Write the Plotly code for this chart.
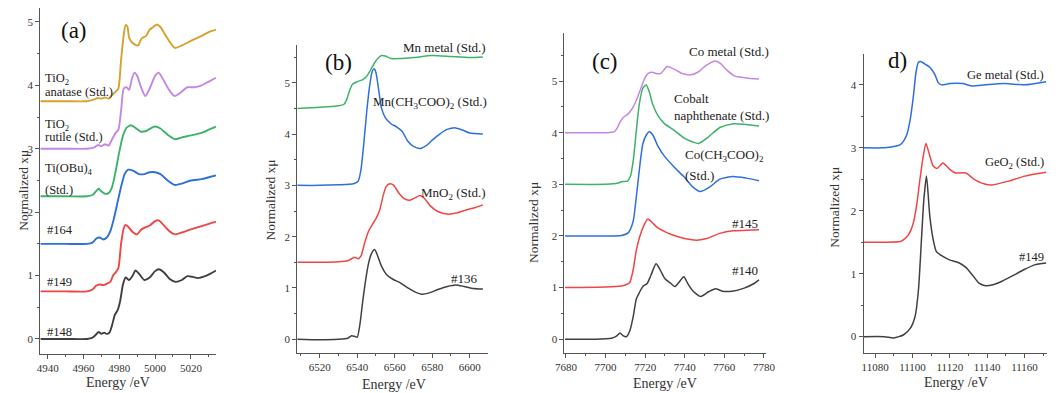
import plotly.graph_objects as go

W, H = 1061, 393

# ---------------- Panel (a): Ti K-edge ----------------
a_e_148 = [4936, 4950, 4962, 4965, 4967, 4968.5, 4970, 4971.5, 4973, 4974.5, 4976, 4977.5, 4979, 4980.5, 4982, 4983.5, 4985.5, 4987.5, 4989, 4991, 4994, 4997, 5000, 5002, 5005, 5008, 5011.5, 5015, 5018, 5021, 5024, 5028, 5031, 5034]
a_mu_148 = [0, 0, 0, 0.02, 0.07, 0.11, 0.08, 0.1, 0.08, 0.1, 0.22, 0.38, 0.45, 0.6, 0.85, 0.97, 0.93, 1.0, 1.08, 1.03, 0.93, 0.97, 1.07, 1.1, 1.05, 0.95, 0.9, 0.93, 0.99, 0.98, 0.96, 0.99, 1.03, 1.08]

a_e_149 = [4936, 4950, 4962, 4965, 4967, 4969, 4971, 4973, 4975, 4976.5, 4978, 4979.5, 4981, 4982.5, 4983.5, 4985, 4987, 4990, 4992, 4994.5, 4997, 5000, 5002, 5004, 5008, 5011.5, 5015, 5020, 5026, 5034]
a_mu_149 = [0.75, 0.75, 0.75, 0.78, 0.84, 0.86, 0.85, 0.87, 0.9, 1.0, 1.05, 1.12, 1.5, 1.75, 1.8, 1.77, 1.7, 1.65, 1.72, 1.76, 1.79, 1.86, 1.87, 1.82, 1.7, 1.65, 1.68, 1.73, 1.78, 1.85]

a_e_164 = [4936, 4950, 4962, 4965, 4967, 4969, 4971, 4973, 4975, 4977, 4979, 4981, 4983, 4985, 4988, 4991, 4994, 4997, 5000, 5003, 5007, 5011, 5015, 5020, 5026, 5030, 5034]
a_mu_164 = [1.5, 1.5, 1.5, 1.52, 1.58, 1.6, 1.57, 1.6, 1.7, 1.9, 2.15, 2.4, 2.6, 2.67, 2.65, 2.6, 2.6, 2.63, 2.63, 2.6, 2.5, 2.43, 2.45, 2.5, 2.52, 2.55, 2.58]

a_e_tobu = [4936, 4950, 4962, 4965, 4967, 4968.5, 4970, 4972, 4974, 4976, 4978, 4980, 4982, 4984, 4986.5, 4989, 4992, 4995, 4998, 5000, 5003, 5007, 5011, 5015, 5020, 5026, 5030, 5034]
a_mu_tobu = [2.25, 2.25, 2.25, 2.27, 2.33, 2.37, 2.33, 2.29, 2.3, 2.4, 2.65, 2.95, 3.2, 3.33, 3.37, 3.33, 3.27, 3.28, 3.33, 3.35, 3.32, 3.22, 3.15, 3.18, 3.21, 3.25, 3.3, 3.35]

a_e_rutile = [4936, 4950, 4962, 4966, 4968, 4970, 4972, 4974, 4976, 4978, 4979.5, 4981, 4982.5, 4984, 4985.5, 4987, 4988.5, 4990, 4992, 4994.5, 4997, 5000, 5002, 5004, 5008, 5011, 5014, 5018, 5022, 5026, 5030, 5034]
a_mu_rutile = [3.0, 3.0, 3.0, 3.02, 3.06, 3.04, 3.07, 3.05, 3.15, 3.25, 3.3, 3.6, 3.95, 3.97, 3.93, 4.1, 4.2, 4.15, 3.98, 3.83, 3.95, 4.15, 4.2, 4.12, 3.92, 3.83, 3.88, 3.97, 3.97, 4.0, 4.06, 4.12]

a_e_anatase = [4936, 4950, 4962, 4966, 4968, 4970, 4972, 4974, 4976, 4978, 4979.5, 4981, 4982.5, 4983.5, 4984.5, 4985.5, 4987, 4989, 4990.5, 4992.5, 4995, 4997, 4999, 5001, 5003, 5006, 5011, 5015, 5020, 5026, 5030, 5034]
a_mu_anatase = [3.75, 3.75, 3.75, 3.78, 3.8, 3.79, 3.81, 3.79, 3.85, 3.9, 3.95, 4.4, 4.8, 4.95, 4.93, 4.75, 4.68, 4.64, 4.63, 4.74, 4.78, 4.88, 4.92, 4.96, 4.92, 4.78, 4.59, 4.63, 4.7, 4.78, 4.84, 4.88]

# ---------------- Panel (b): Mn K-edge ----------------
b_e_mnmetal = [6508, 6520, 6530, 6533, 6534.5, 6536, 6537.5, 6540, 6543, 6545, 6547, 6549, 6551, 6553, 6555, 6558, 6563, 6570, 6580, 6590, 6600, 6607]
b_mu_mnmetal = [4.50, 4.52, 4.55, 4.58, 4.68, 4.85, 4.97, 5.02, 5.06, 5.12, 5.24, 5.37, 5.47, 5.53, 5.52, 5.47, 5.47, 5.49, 5.53, 5.51, 5.49, 5.50]

b_e_mnac = [6508, 6520, 6530, 6538, 6540.5, 6542, 6543.5, 6545, 6546.5, 6548, 6549, 6550, 6551.5, 6553, 6555, 6558, 6561, 6564, 6567, 6570, 6573.5, 6577, 6580, 6584, 6588, 6592.5, 6596, 6600, 6607]
b_mu_mnac = [3.0, 3.0, 3.01, 3.03, 3.08, 3.3, 3.8, 4.4, 4.9, 5.22, 5.27, 5.2, 4.85, 4.5, 4.32, 4.2, 4.14, 4.05, 3.86, 3.76, 3.72, 3.78, 3.88, 4.0, 4.09, 4.12, 4.08, 4.02, 4.0]

b_e_mno2 = [6508, 6520, 6530, 6535, 6537, 6538.6, 6540.5, 6542, 6544, 6546, 6548, 6550, 6552, 6554, 6555.5, 6557.5, 6559.5, 6562, 6565, 6568, 6571, 6573.5, 6576, 6579, 6583, 6588, 6593, 6598, 6603, 6607]
b_mu_mno2 = [1.5, 1.5, 1.51, 1.53, 1.57, 1.6, 1.57, 1.62, 1.88, 2.1, 2.23, 2.35, 2.52, 2.82, 2.98, 3.03, 3.0, 2.86, 2.74, 2.71, 2.76, 2.8, 2.74, 2.6, 2.49, 2.44, 2.46, 2.52, 2.57, 2.62]

b_e_136 = [6508, 6520, 6530, 6535, 6537, 6538.5, 6540, 6541.5, 6543, 6544.5, 6546, 6547.5, 6549.3, 6551, 6553, 6555.5, 6559, 6563, 6567, 6571, 6574.5, 6578, 6583, 6588, 6592.5, 6597, 6602, 6607]
b_mu_136 = [0.0, -0.01, 0.0, 0.02, 0.07, 0.06, 0.04, 0.3, 0.75, 1.15, 1.47, 1.66, 1.75, 1.62, 1.42, 1.27, 1.17, 1.1, 1.0, 0.92, 0.88, 0.9, 0.97, 1.03, 1.06, 1.03, 0.99, 0.98]

# ---------------- Panel (c): Co K-edge ----------------
c_e_cometal = [7679.5, 7690, 7700, 7704.5, 7706, 7707.5, 7709, 7711, 7713, 7715, 7716.5, 7718.5, 7720, 7721.5, 7723.5, 7726, 7728, 7731, 7733, 7736, 7739, 7743, 7747, 7751, 7755.5, 7758, 7761, 7765, 7771, 7777.5]
c_mu_cometal = [4.0, 4.0, 4.0, 4.02, 4.1, 4.22, 4.3, 4.35, 4.44, 4.58, 4.72, 4.93, 5.07, 5.15, 5.17, 5.14, 5.15, 5.28, 5.26, 5.2, 5.14, 5.12, 5.18, 5.31, 5.39, 5.34, 5.22, 5.1, 5.06, 5.04]

c_e_conaph = [7679.5, 7700, 7706, 7708, 7711, 7712.5, 7714, 7715.5, 7717, 7718.8, 7720.5, 7722, 7723.8, 7726.3, 7729.6, 7734.5, 7739.5, 7744, 7747, 7752, 7757.7, 7764, 7771, 7777.5]
c_mu_conaph = [3.0, 3.0, 3.02, 3.05, 3.06, 3.15, 3.47, 4.03, 4.55, 4.86, 4.93, 4.8, 4.55, 4.34, 4.18, 4.05, 3.9, 3.82, 3.79, 3.92, 4.1, 4.17, 4.16, 4.13]

c_e_coac = [7679.5, 7700, 7708, 7711.4, 7713.9, 7715.5, 7717.2, 7718.8, 7720.5, 7722.1, 7723.8, 7726.3, 7729.6, 7734.5, 7739.5, 7744, 7747.8, 7752.7, 7757.7, 7764.3, 7770.9, 7777.5]
c_mu_coac = [2.0, 2.0, 2.01, 2.06, 2.28, 2.75, 3.33, 3.78, 3.95, 4.02, 3.96, 3.75, 3.55, 3.34, 3.15, 2.95, 2.86, 2.95, 3.1, 3.15, 3.12, 3.07]

c_e_145 = [7679.5, 7700, 7708, 7710, 7712.2, 7713.9, 7715.5, 7717.2, 7719.3, 7721.3, 7723, 7726.3, 7731.2, 7736.2, 7742.8, 7747, 7751, 7757.7, 7764.3, 7771, 7777.5]
c_mu_145 = [1.0, 1.01, 1.03, 1.05, 1.1, 1.34, 1.72, 1.98, 2.2, 2.33, 2.28, 2.16, 2.06, 1.99, 1.93, 1.92, 1.95, 2.05, 2.1, 2.11, 2.12]

c_e_140 = [7679.5, 7695, 7703, 7705.5, 7707.3, 7708.8, 7710.5, 7712.2, 7714, 7715.5, 7717, 7719, 7721, 7723, 7725.5, 7727.5, 7730, 7733, 7735, 7737, 7739.5, 7741.5, 7744, 7748, 7752, 7755.5, 7759, 7764, 7770, 7775, 7777.5]
c_mu_140 = [0.0, 0.0, 0.02, 0.06, 0.12, 0.07, 0.05, 0.16, 0.45, 0.78, 0.9, 1.03, 1.08, 1.25, 1.46, 1.35, 1.17, 1.08, 1.02, 1.1, 1.21, 1.08, 0.94, 0.83, 0.92, 0.98, 0.93, 0.93, 0.99, 1.08, 1.15]

# ---------------- Panel (d): Ge K-edge ----------------
d_e_gemetal = [11073.8, 11085, 11090, 11093.5, 11095.3, 11097, 11098.8, 11100.5, 11101.9, 11103.2, 11104.4, 11106.7, 11109.3, 11111.9, 11113.7, 11115.4, 11120, 11126.8, 11132.1, 11139.1, 11149.6, 11160.2, 11171.6]
d_mu_gemetal = [3.0, 3.0, 3.02, 3.05, 3.11, 3.21, 3.45, 3.82, 4.2, 4.36, 4.37, 4.33, 4.28, 4.17, 4.04, 4.0, 4.02, 4.02, 3.98, 4.0, 4.02, 4.0, 4.05]

d_e_geo2 = [11073.8, 11085, 11093.5, 11095.3, 11097.9, 11100.5, 11102.3, 11104, 11105.8, 11107.2, 11109.3, 11111.1, 11113.2, 11116.3, 11119.8, 11123, 11128.6, 11133, 11139.1, 11142.6, 11151.4, 11160.2, 11171.6]
d_mu_geo2 = [1.5, 1.5, 1.51, 1.54, 1.62, 1.81, 2.1, 2.5, 2.87, 3.07, 2.87, 2.71, 2.67, 2.76, 2.66, 2.6, 2.6, 2.5, 2.42, 2.41, 2.47, 2.55, 2.61]

d_e_149 = [11073.8, 11085, 11090, 11095.3, 11098.8, 11101.4, 11103.2, 11104.9, 11106.1, 11107.5, 11109.3, 11111.1, 11112.8, 11115.4, 11119.8, 11125.1, 11128.6, 11132.1, 11135.6, 11139.1, 11142.6, 11147.9, 11153.2, 11160.2, 11165.4, 11171.6]
d_mu_149 = [0.0, 0.0, -0.02, 0.03, 0.13, 0.32, 0.74, 1.59, 2.18, 2.55, 1.91, 1.54, 1.35, 1.29, 1.22, 1.17, 1.1, 0.98, 0.85, 0.81, 0.82, 0.88, 0.96, 1.07, 1.14, 1.17]

# ---------------- styling ----------------
BLACK = "#404040"
RED = "#ee4545"
BLUE = "#2f6fdc"
GREEN = "#3db36a"
PURPLE = "#c487e6"
GOLD = "#d6a22c"
SERIF = "Liberation Serif, Times New Roman, DejaVu Serif, serif"


def px(x, y):
    return x / W, 1 - y / H


fig = go.Figure()

panels = [
    ("x", "y", [(a_e_148, a_mu_148, BLACK), (a_e_149, a_mu_149, RED), (a_e_164, a_mu_164, BLUE),
                (a_e_tobu, a_mu_tobu, GREEN), (a_e_rutile, a_mu_rutile, PURPLE), (a_e_anatase, a_mu_anatase, GOLD)], 1.9),
    ("x2", "y2", [(b_e_136, b_mu_136, BLACK), (b_e_mno2, b_mu_mno2, RED), (b_e_mnac, b_mu_mnac, BLUE),
                  (b_e_mnmetal, b_mu_mnmetal, GREEN)], 1.5),
    ("x3", "y3", [(c_e_140, c_mu_140, BLACK), (c_e_145, c_mu_145, RED), (c_e_coac, c_mu_coac, BLUE),
                  (c_e_conaph, c_mu_conaph, GREEN), (c_e_cometal, c_mu_cometal, PURPLE)], 1.5),
    ("x4", "y4", [(d_e_149, d_mu_149, BLACK), (d_e_geo2, d_mu_geo2, RED), (d_e_gemetal, d_mu_gemetal, BLUE)], 1.5),
]
for xa, ya, series, lw in panels:
    for e, mu, col in series:
        fig.add_trace(go.Scatter(x=e, y=mu, mode="lines", xaxis=xa, yaxis=ya,
                                 line=dict(color=col, width=lw, shape="spline", smoothing=0.6),
                                 showlegend=False, hoverinfo="skip"))

# axes geometry in pixels: (left, right, top, bottom), x range, y range, tick0
geo = [
    (31.7, 210.7, 8, 354, [4935.8, 5034.1], [-0.237, 5.22], 4940),
    (293.3, 487, 45, 353, [6508.1, 6609.6], [-0.267, 5.735], 6520),
    (565, 770, 33, 352.7, [7679.2, 7781], [-0.26, 5.93], 7680),
    (869.3, 1056, 54, 353, [11073.8, 11172.1], [-0.26, 4.49], 11080),
]
axcol = "#555555"
tickfont = dict(family=SERIF, size=11, color="#333333")
layout = {}
for i, (l, r, t, b, xr, yr, x0) in enumerate(geo):
    n = "" if i == 0 else str(i + 1)
    layout["xaxis" + n] = dict(domain=[l / W, r / W], range=xr, anchor="y" + n,
                               showline=True, linecolor=axcol, linewidth=1,
                               ticks="outside", ticklen=4, tickcolor=axcol, tickwidth=1,
                               tick0=x0, dtick=20, tickfont=tickfont, tickformat="d",
                               minor=dict(ticks="outside", ticklen=2, tickcolor=axcol, dtick=10, tick0=x0),
                               showgrid=False, zeroline=False, fixedrange=True)
    layout["yaxis" + n] = dict(domain=[1 - b / H, 1 - t / H], range=yr, anchor="x" + n,
                               showline=True, linecolor=axcol, linewidth=1,
                               ticks="outside", ticklen=4, tickcolor=axcol, tickwidth=1,
                               tick0=0, dtick=1, tickfont=tickfont,
                               minor=dict(ticks="outside", ticklen=2, tickcolor=axcol, dtick=0.5, tick0=0),
                               showgrid=False, zeroline=False, fixedrange=True)

ann = []


def add(text, x, y, size=12.5, xanchor="left", angle=0, color="#222222"):
    ax, ay = px(x, y)
    ann.append(dict(text=text, x=ax, y=ay, xref="paper", yref="paper", xanchor=xanchor,
                    yanchor="middle", showarrow=False, textangle=angle,
                    font=dict(family=SERIF, size=size, color=color)))


# panel letters
add("(a)", 51, 31, size=23, color="#111111")
add("(b)", 319, 63, size=23, color="#111111")
add("(c)", 591, 62, size=23, color="#111111")
add("d)", 892, 60, size=23, color="#111111")

# axis titles
for xx, yy in [(14, 190), (265, 200), (533, 222), (839, 207)]:
    add("Normalized xμ", xx, yy, size=13.5, xanchor="center", angle=-90, color="#333333")
for xx, yy in [(111, 382), (392, 384), (667, 383), (963, 382)]:
    add("Energy /eV", xx, yy, size=14, xanchor="center", color="#333333")

# panel (a) labels
add("TiO<sub>2</sub>", 35, 79, size=12.5)
add("anatase (Std.)", 35, 92, size=12.5)
add("TiO<sub>2</sub>", 35, 125, size=12.5)
add("rutile (Std.)", 35, 137, size=12.5)
add("Ti(OBu)<sub>4</sub>", 35, 169, size=12.5)
add("(Std.)", 35, 190, size=12.5)
add("#164", 37, 230, size=12.5)
add("#149", 37, 282, size=12.5)
add("#148", 37, 332, size=12.5)

# panel (b) labels
add("Mn metal (Std.)", 487, 48, xanchor="right", size=13)
add("Mn(CH<sub>3</sub>COO)<sub>2</sub> (Std.)", 488, 102, xanchor="right", size=13)
add("MnO<sub>2</sub> (Std.)", 487, 193, xanchor="right", size=13)
add("#136", 479, 278, xanchor="right", size=13)

# panel (c) labels
add("Co metal (Std.)", 775, 52, xanchor="right", size=13)
add("Cobalt", 674, 98, size=13)
add("naphthenate (Std.)", 674, 115, size=13)
add("Co(CH<sub>3</sub>COO)<sub>2</sub>", 686, 155, size=13)
add("(Std.)", 686, 175, size=13)
add("#145", 733, 223, size=13)
add("#140", 733, 270, size=13)

# panel (d) labels
add("Ge metal (Std.)", 1055, 75, size=12.5, xanchor="right")
add("GeO<sub>2</sub> (Std.)", 1055, 163, size=12.5, xanchor="right")
add("#149", 1055, 257, size=12.5, xanchor="right")

fig.update_layout(width=W, height=H, margin=dict(l=0, r=0, t=0, b=0),
                  paper_bgcolor="white", plot_bgcolor="white",
                  annotations=ann, showlegend=False, **layout)

fig.write_html("out.html", config={"displayModeBar": False},
               post_script="document.body.style.margin='0';document.body.style.padding='0';")
